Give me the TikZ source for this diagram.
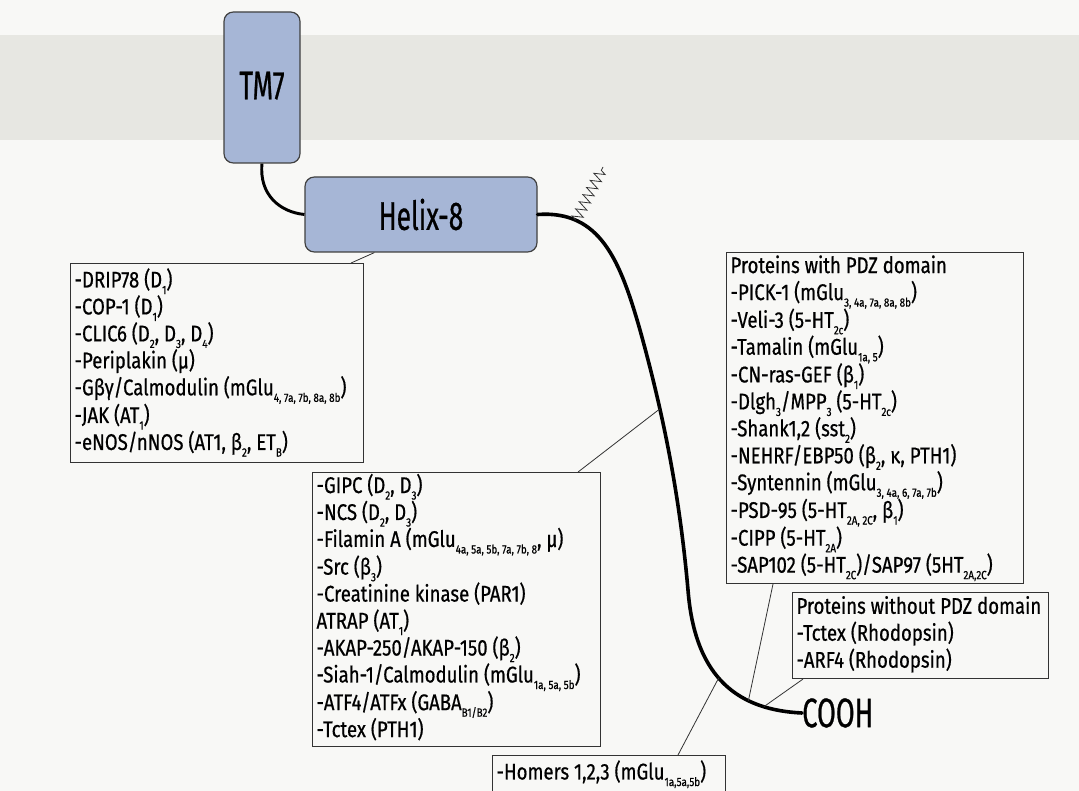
\documentclass[tikz,border=0pt]{standalone}
\usepackage{fontspec}
\setmainfont{Fira Sans}[FakeStretch=0.82, FakeBold=0.6]
\newfontfamily\bigfont{Fira Sans}[FakeStretch=0.66, FakeBold=0.6]
\usetikzlibrary{positioning,calc,decorations.pathmorphing}
\definecolor{tmblue}{RGB}{166,182,214}
\definecolor{bandgray}{RGB}{231,231,226}
\definecolor{pagebg}{RGB}{248,248,246}
\newcommand{\sbs}[1]{\raisebox{-0.55ex}{\fontsize{9}{9}\selectfont #1}}
\newcommand{\plines}[2]{\makebox[#1][l]{\begin{tabular}{@{}l@{}}#2\end{tabular}}}

\begin{document}
\begin{tikzpicture}[x=0.75pt, y=-0.75pt,
    segbox/.style={draw=black!75, fill=tmblue, rounded corners=7pt, line width=0.9pt, inner sep=0pt, font=\bigfont\fontsize{30}{30}\selectfont},
    plist/.style={draw=black!80, line width=0.8pt, anchor=north west, inner xsep=3pt, inner ysep=1pt, font=\fontsize{17}{19.5}\selectfont},
    link/.style={line width=0.6pt, black!80},
    tail/.style={line width=2.7pt, line cap=round}]
    % Page and membrane band
    \fill[pagebg] (0,0) rectangle (1079,791);
    \useasboundingbox (0,0) rectangle (1079,791);
    \fill[bandgray] (0,35) rectangle (1079,140);

    % Receptor segments
    \node[segbox, minimum width=57pt, minimum height=113.25pt] (tm7) at (262,87.5) {\raisebox{3pt}{TM7}};
    \node[segbox, minimum width=174pt, minimum height=56.25pt] (h8) at (421,214.5) {Helix-8};
    \node[anchor=west, inner sep=0pt, font=\bigfont\fontsize{31}{31}\selectfont] (cooh) at (802,713) {COOH};
    \draw[line width=2.2pt] (tm7.south) .. controls (259,195) and (280,212) .. (h8.west);

    % C-terminal tail
    \draw[tail] (h8.east) .. controls (600,210) and (620,260) .. (640,330) coordinate[pos=0.24] (zz)
        .. controls (665,420) and (680,500) .. (688,590) coordinate[pos=0.3] (jB)
        .. controls (695,680) and (740,710) .. (cooh.west) coordinate[pos=0.45] (jC)
        coordinate[pos=0.68] (jD) coordinate[pos=0.78] (jE);
    \coordinate (zzend) at (603,167);
    \draw[link, decorate, decoration={zigzag, segment length=6pt, amplitude=4pt}] (zz) -- (zzend);

    % Interacting proteins
    \node[plist, minimum height=149.25pt] (b1) at (70,263) {\plines{213.75pt}{%
        -DRIP78 (D\sbs{1})\\
        -COP-1 (D\sbs{1})\\
        -CLIC6 (D\sbs{2}, D\sbs{3}, D\sbs{4})\\
        -Periplakin (μ)\\
        -Gβγ/Calmodulin (mGlu\sbs{4, 7a, 7b, 8a, 8b})\\
        -JAK (AT\sbs{1})\\
        -eNOS/nNOS (AT1, β\sbs{2}, ET\sbs{B})}};
    \node[plist, minimum height=203.25pt] (b2) at (312,472) {\plines{210pt}{%
        -GIPC (D\sbs{2}, D\sbs{3})\\
        -NCS (D\sbs{2}, D\sbs{3})\\
        -Filamin A (mGlu\sbs{4a, 5a, 5b, 7a, 7b, 8}, μ)\\
        -Src (β\sbs{3})\\
        -Creatinine kinase (PAR1)\\
        ATRAP (AT\sbs{1})\\
        -AKAP-250/AKAP-150 (β\sbs{2})\\
        -Siah-1/Calmodulin (mGlu\sbs{1a, 5a, 5b})\\
        -ATF4/ATFx (GABA\sbs{B1/B2})\\
        -Tctex (PTH1)}};
    \node[plist, minimum height=248.25pt] (b3) at (726,252) {\plines{216.75pt}{%
        Proteins with PDZ domain\\
        -PICK-1 (mGlu\sbs{3, 4a, 7a, 8a, 8b})\\
        -Veli-3 (5-HT\sbs{2c})\\
        -Tamalin (mGlu\sbs{1a, 5})\\
        -CN-ras-GEF (β\sbs{1})\\
        -Dlgh\sbs{3}/MPP\sbs{3} (5-HT\sbs{2c})\\
        -Shank1,2 (sst\sbs{2})\\
        -NEHRF/EBP50 (β\sbs{2}, κ, PTH1)\\
        -Syntennin (mGlu\sbs{3, 4a, 6, 7a, 7b})\\
        -PSD-95 (5-HT\sbs{2A, 2C}, β\sbs{1})\\
        -CIPP (5-HT\sbs{2A})\\
        -SAP102 (5-HT\sbs{2C})/SAP97 (5HT\sbs{2A,2C})}};
    \node[plist, minimum height=64.5pt] (b4) at (792,592) {\plines{186pt}{%
        Proteins without PDZ domain\\
        -Tctex (Rhodopsin)\\
        -ARF4 (Rhodopsin)}};
    \node[plist, minimum height=28pt] (b5) at (492,755) {\plines{168.75pt}{%
        -Homers 1,2,3 (mGlu\sbs{1a,5a,5b})}};

    % Links to the receptor
    \draw[link] ($(b1.north east)+(-13,0)$) -- ($(h8.south west)+(70,0)$);
    \draw[link] ($(b2.north east)+(-23,0)$) -- (jB);
    \draw[link] ($(b3.south west)+(47,0)$) -- (jD);
    \draw[link] ($(b4.south west)+(11,0)$) -- (jE);
    \draw[link] ($(b5.north west)+(186,0)$) -- (jC);
\end{tikzpicture}
\end{document}
